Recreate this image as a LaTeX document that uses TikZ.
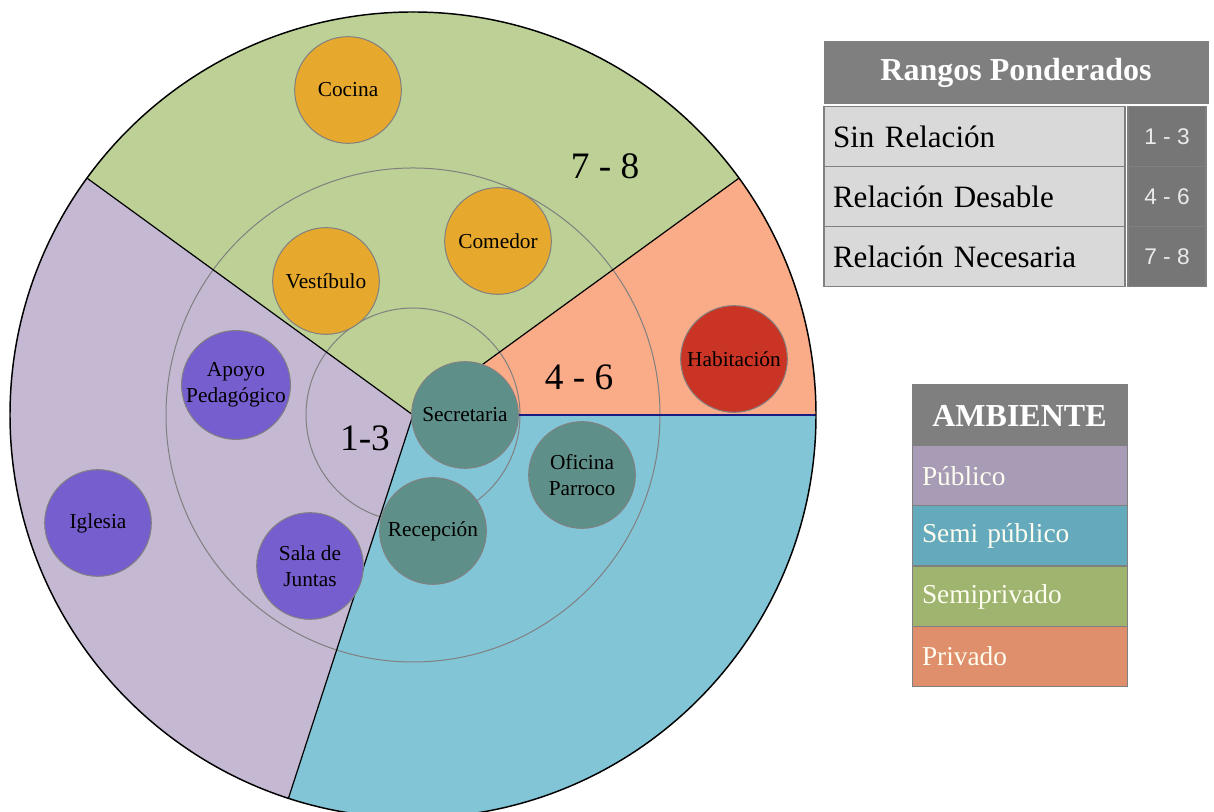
\documentclass[tikz,border=0pt]{standalone}
\usepackage{fontspec}
\usetikzlibrary{calc}
\setmainfont{Liberation Serif}
\newfontfamily\arialf{Liberation Sans}
\definecolor{secgreen}{RGB}{189,208,149}
\definecolor{secpurple}{RGB}{196,184,211}
\definecolor{secblue}{RGB}{130,197,215}
\definecolor{secsalmon}{RGB}{250,171,136}
\definecolor{norange}{RGB}{230,169,46}
\definecolor{npurple}{RGB}{119,94,206}
\definecolor{nteal}{RGB}{94,144,137}
\definecolor{nred}{RGB}{201,52,36}
\definecolor{ringgray}{RGB}{128,128,128}
\definecolor{navyline}{RGB}{26,26,128}
\definecolor{hdrgray}{RGB}{127,127,127}
\definecolor{cellgray}{RGB}{217,217,217}
\definecolor{valgray}{RGB}{118,118,118}
\definecolor{lpub}{RGB}{168,155,182}
\definecolor{lsemipub}{RGB}{100,169,188}
\definecolor{lsemipriv}{RGB}{159,180,111}
\definecolor{lpriv}{RGB}{224,143,108}
\definecolor{cream}{RGB}{253,253,240}
\begin{document}
\begin{tikzpicture}[x=0.75pt,y=0.75pt,
  room/.style={circle, draw=ringgray, line width=0.75pt, minimum size=80pt, inner sep=0pt, align=center, font=\fontsize{16}{19.5}\selectfont},
  rangelbl/.style={font=\fontsize{28}{32}\selectfont, inner sep=0pt},
  secline/.style={draw=black, line width=0.9pt},
  ring/.style={draw=ringgray, line width=0.75pt},
  hdrcell/.style={draw=ringgray, fill=hdrgray, line width=0.75pt, text=white, font=\fontsize{24}{28}\selectfont\bfseries, inner sep=0pt},
  lcell/.style={draw=ringgray, fill=cellgray, line width=1pt, minimum width=225.75pt, minimum height=45pt, inner xsep=6.75pt, inner ysep=0pt, text width=212.25pt, align=left, font=\fontsize{23.3}{27}\selectfont},
  rcell/.style={draw=ringgray, fill=valgray, line width=1pt, minimum width=58.5pt, minimum height=45pt, inner sep=0pt, text=black!8, font=\arialf\fontsize{17}{20}\selectfont},
  acell/.style={draw=ringgray, line width=0.75pt, minimum width=161.25pt, minimum height=45pt, inner xsep=7.5pt, inner ysep=0pt, text width=146.25pt, align=left, text=cream, font=\fontsize{20.5}{24}\selectfont}
]
\clip (0,0) rectangle (1214,812);
\coordinate (c) at (413,397);
% sectors
\fill[secgreen] (c) -- ++(36:403) arc[start angle=36, end angle=144, radius=403] -- cycle;
\fill[secpurple] (c) -- ++(144:403) arc[start angle=144, end angle=252, radius=403] -- cycle;
\fill[secblue] (c) -- ++(252:403) arc[start angle=252, end angle=360, radius=403] -- cycle;
\fill[secsalmon] (c) -- ++(0:403) arc[start angle=0, end angle=36, radius=403] -- cycle;
% rings
\draw[ring] (c) circle[radius=247];
\draw[ring] (c) circle[radius=107];
% sector boundaries
\coordinate (e36) at ($(c)+(36:403)$);
\coordinate (e144) at ($(c)+(144:403)$);
\coordinate (e252) at ($(c)+(252:403)$);
\coordinate (e0) at ($(c)+(0:403)$);
\draw[secline] (c) -- (e36);
\draw[secline] (c) -- (e144);
\draw[secline] (c) -- (e252);
\draw[navyline, line width=1.6pt] (c) -- (e0);
\draw[black, line width=1.1pt] (c) circle[radius=403];
% range labels
\node[rangelbl] (r78) at (605,646) {7 - 8};
\node[rangelbl] (r46) at (579,435) {4 - 6};
\node[rangelbl] (r13) at (365,374) {1-3};
% rooms
\node[room, fill=norange] (cocina) at (348,722) {Cocina};
\node[room, fill=norange] (vestibulo) at (326,531) {Vestíbulo};
\node[room, fill=norange] (comedor) at (498,571) {Comedor};
\node[room, fill=npurple] (apoyo) at (236,427) {Apoyo\\Pedagógico};
\node[room, fill=nred] (habitacion) at (734,453) {Habitación};
\node[room, fill=nteal] (secretaria) at (465,397) {Secretaria};
\node[room, fill=nteal] (oficina) at (582,337) {Oficina\\Parroco};
\node[room, fill=nteal] (recepcion) at (433,281) {Recepción};
\node[room, fill=npurple] (iglesia) at (98,289) {Iglesia};
\node[room, fill=npurple] (sala) at (310,246) {Sala de\\Juntas};
% Rangos table
\node[hdrcell, minimum width=288pt, minimum height=46.5pt] (rh) at (1016,739) {Rangos Ponderados};
\node[lcell] (l1) at (974.5,675.5) {Sin Relación};
\node[lcell] (l2) at (974.5,615.5) {Relación Desable};
\node[lcell] (l3) at (974.5,555.5) {Relación Necesaria};
\node[rcell] (v1) at (1167,675.5) {1 - 3};
\node[rcell] (v2) at (1167,615.5) {4 - 6};
\node[rcell] (v3) at (1167,555.5) {7 - 8};
% Ambiente table
\node[hdrcell, minimum width=161.25pt, minimum height=45.75pt] (ah) at (1019.5,396.5) {AMBIENTE};
\node[acell, fill=lpub] (a1) at (1019.5,336) {Público};
\node[acell, fill=lsemipub] (a2) at (1019.5,276) {Semi público};
\node[acell, fill=lsemipriv] (a3) at (1019.5,215.5) {Semiprivado};
\node[acell, fill=lpriv] (a4) at (1019.5,155.5) {Privado};
\end{tikzpicture}
\end{document}
